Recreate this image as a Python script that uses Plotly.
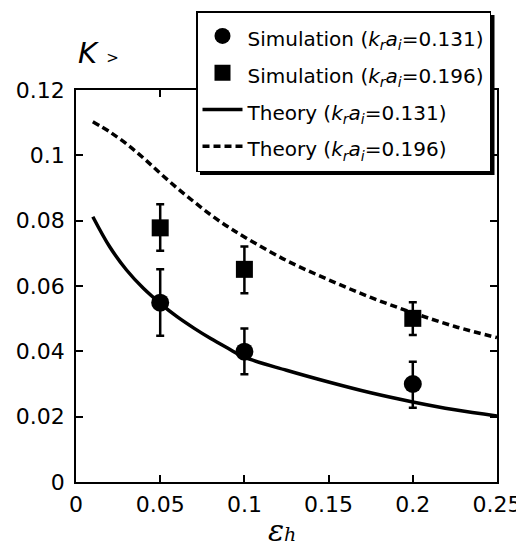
import plotly.graph_objects as go

# Simulation data
sim_x = [0.05, 0.10, 0.20]
sim131_y = [0.0549, 0.0399, 0.0300]
sim131_err_plus = [0.0102, 0.0071, 0.0068]
sim131_err_minus = [0.0101, 0.0069, 0.0073]
sim196_y = [0.0778, 0.0651, 0.0501]
sim196_err_plus = [0.0072, 0.0070, 0.0049]
sim196_err_minus = [0.0070, 0.0073, 0.0051]

# Theory curves
th_x = [0.01, 0.02, 0.03, 0.04, 0.05, 0.06, 0.07, 0.08, 0.09, 0.10,
        0.125, 0.15, 0.175, 0.20, 0.225, 0.25]
th131_y = [0.0812, 0.0720, 0.0649, 0.0593, 0.0547, 0.0506, 0.0471, 0.0439,
           0.0410, 0.0382, 0.0342, 0.0306, 0.0273, 0.0245, 0.0221, 0.0202]
th196_y = [0.1103, 0.1072, 0.1035, 0.0992, 0.0945, 0.0900, 0.0858, 0.0818,
           0.0782, 0.0750, 0.0678, 0.0619, 0.0565, 0.0518, 0.0476, 0.0442]

x_ticks = [0, 0.05, 0.1, 0.15, 0.2, 0.25]
x_ticktext = ["0", "0.05", "0.1", "0.15", "0.2", "0.25"]
y_ticks = [0, 0.02, 0.04, 0.06, 0.08, 0.1, 0.12]
y_ticktext = ["0", "0.02", "0.04", "0.06", "0.08", "0.1", "0.12"]

lab = "(<i>k</i><sub><i>r</i></sub><i>a</i><sub><i>i</i></sub>="
labels = ["Simulation " + lab + "0.131)", "Simulation " + lab + "0.196)",
          "Theory " + lab + "0.131)", "Theory " + lab + "0.196)"]
names = ["<span style='font-size:20px'>" + s + "</span>" for s in labels]

fig = go.Figure()

# error bars (no legend)
fig.add_trace(go.Scatter(x=sim_x, y=sim131_y, mode="markers", marker=dict(size=1, opacity=0),
                         error_y=dict(type="data", array=sim131_err_plus, arrayminus=sim131_err_minus,
                                      color="black", thickness=2.5, width=4),
                         showlegend=False, hoverinfo="skip"))
fig.add_trace(go.Scatter(x=sim_x, y=sim196_y, mode="markers", marker=dict(size=1, opacity=0),
                         error_y=dict(type="data", array=sim196_err_plus, arrayminus=sim196_err_minus,
                                      color="black", thickness=2.5, width=4),
                         showlegend=False, hoverinfo="skip"))

fig.add_trace(go.Scatter(x=th_x, y=th131_y, mode="lines", name=names[2],
                         line=dict(color="black", width=3.5, shape="spline"), legendrank=3))
fig.add_trace(go.Scatter(x=th_x, y=th196_y, mode="lines", name=names[3],
                         line=dict(color="black", width=3.5, dash="7px,4px", shape="spline"), legendrank=4))

fig.add_trace(go.Scatter(x=sim_x, y=sim131_y, mode="markers", name=names[0],
                         marker=dict(symbol="circle", size=18, color="black"), legendrank=1))
fig.add_trace(go.Scatter(x=sim_x, y=sim196_y, mode="markers", name=names[1],
                         marker=dict(symbol="square", size=17, color="black"), legendrank=2))

axis_common = dict(showline=True, linecolor="black", linewidth=1.5, mirror="ticks",
                   ticks="inside", ticklen=7, tickwidth=1.5, tickcolor="black",
                   showgrid=False, zeroline=False, automargin=False,
                   tickfont=dict(family="DejaVu Sans", size=22, color="black"))

# page offset (browser body margin) compensation
OFF = 8
W, H = 524, 550
L = 76 - OFF
T = 90 - OFF
R = W - (497 - OFF)
B = H - (482 - OFF)
pw, ph = W - L - R, H - T - B


def px_x(p):
    # screen pixel -> paper fraction
    return (p - OFF - L) / pw


def px_y(p):
    return (H - B - (p - OFF)) / ph


fig.update_layout(
    width=W, height=H,
    margin=dict(l=L, r=R, t=T, b=B, autoexpand=False),
    plot_bgcolor="white", paper_bgcolor="white",
    xaxis=dict(range=[0, 0.25], tickvals=x_ticks, ticktext=x_ticktext, ticklabelstandoff=2, **axis_common),
    yaxis=dict(range=[0, 0.12], tickvals=y_ticks, ticktext=y_ticktext, ticklabelstandoff=5, **axis_common),
    legend=dict(xref="container", yref="container", x=(196 - OFF) / W, y=1 - (11 - OFF) / H,
                xanchor="left", yanchor="top",
                bgcolor="white", bordercolor="black", borderwidth=1.5,
                font=dict(family="DejaVu Sans", size=26, color="black"),
                itemwidth=40, tracegroupgap=0),
    shapes=[dict(type="rect", xref="paper", yref="paper",
                 x0=px_x(200), x1=px_x(494.5),
                 y0=px_y(175), y1=px_y(15),
                 fillcolor="black", line=dict(width=0), layer="above")],
    annotations=[
        dict(text="<i>K</i> <span style='font-size:15px'>&gt;</span>", xref="paper", yref="paper",
             x=px_x(76), y=px_y(53), xanchor="left", yanchor="middle", showarrow=False,
             font=dict(family="DejaVu Sans", size=29, color="black")),
        dict(text="<i>ε</i><span style='font-size:19px'><i>h</i></span>", xref="paper", yref="paper",
             x=px_x(282), y=px_y(550), xanchor="center", yanchor="bottom", showarrow=False,
             font=dict(family="DejaVu Serif", size=30, color="black")),
    ],
)

fig.write_html("out.html")
